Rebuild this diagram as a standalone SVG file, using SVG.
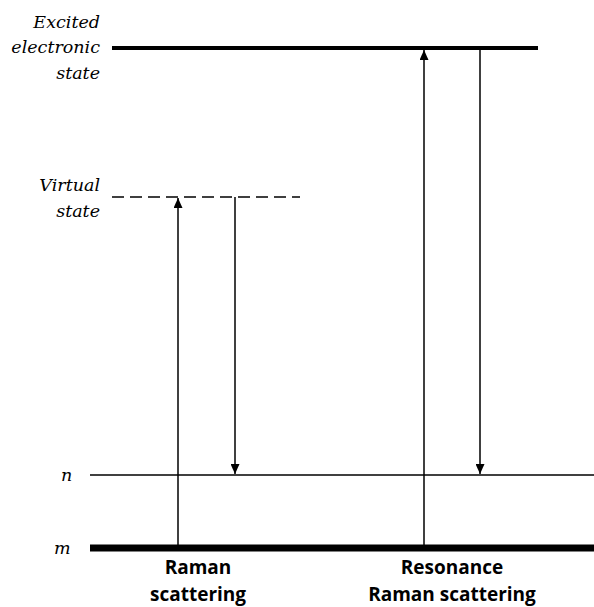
<svg xmlns="http://www.w3.org/2000/svg" width="594" height="607" viewBox="0 0 594 607">
<style>
.lvl{font-family:"DejaVu Serif","Liberation Serif",serif;font-style:italic;font-size:17.5px;fill:#000}
.cap{font-family:"Open Sans","Noto Sans",sans-serif;font-weight:bold;font-size:19px;fill:#000;text-anchor:middle}
.arr{stroke:#000;stroke-width:1.5;fill:none}
</style>
<defs>
<marker id="ah" viewBox="0 0 10 10" refX="10" refY="5" markerWidth="10" markerHeight="9" markerUnits="userSpaceOnUse" orient="auto" preserveAspectRatio="none">
<path d="M0,0 L10,5 L0,10 z" fill="#000"/>
</marker>
</defs>
<rect width="594" height="607" fill="#fff"/>
<g id="excited">
<line x1="112" y1="48" x2="538" y2="48" stroke="#000" stroke-width="4"/>
<text class="lvl" text-anchor="end" x="100" y="28">Excited</text>
<text class="lvl" text-anchor="end" x="100" y="53">electronic</text>
<text class="lvl" text-anchor="end" x="100" y="79">state</text>
</g>
<g id="virtual">
<line x1="112" y1="197" x2="300" y2="197" stroke="#000" stroke-width="1.5" stroke-dasharray="12,6"/>
<text class="lvl" text-anchor="end" x="100" y="191">Virtual</text>
<text class="lvl" text-anchor="end" x="100" y="217">state</text>
</g>
<g id="n-level">
<line x1="90" y1="475" x2="594" y2="475" stroke="#000" stroke-width="1.5"/>
<text class="lvl" x="61" y="481">n</text>
</g>
<g id="m-level">
<line x1="90" y1="548" x2="594" y2="548" stroke="#000" stroke-width="7"/>
<text class="lvl" x="54" y="554">m</text>
</g>
<g id="connectors">
<line class="arr" x1="178" y1="545" x2="178" y2="198" marker-end="url(#ah)"/>
<line class="arr" x1="235" y1="197" x2="235" y2="474" marker-end="url(#ah)"/>
<line class="arr" x1="424" y1="545" x2="424" y2="50" marker-end="url(#ah)"/>
<line class="arr" x1="480" y1="48" x2="480" y2="474" marker-end="url(#ah)"/>
</g>
<g id="label-raman">
<text class="cap" x="198" y="574">Raman</text>
<text class="cap" x="198" y="601">scattering</text>
</g>
<g id="label-resonance">
<text class="cap" x="452" y="574">Resonance</text>
<text class="cap" x="452" y="601">Raman scattering</text>
</g>
</svg>
